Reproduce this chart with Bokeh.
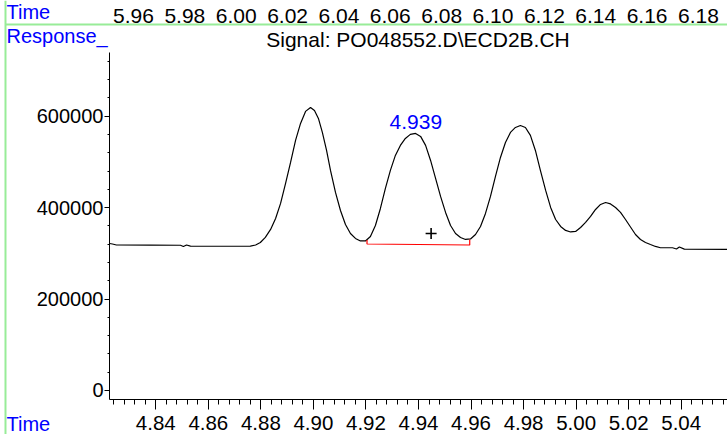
from bokeh.plotting import figure
from bokeh.models import (Range1d, LinearAxis, FixedTicker, PrintfTickFormatter,
                          Label, Span)
from bokeh.embed import file_html
from bokeh.resources import INLINE
import numpy as np

# ---------------- data ----------------
time_min = [4.8224, 4.8235, 4.8250, 4.8380, 4.8494, 4.8505, 4.8517, 4.8532, 4.8646, 4.8760,
            4.8780, 4.8798, 4.8817, 4.8837, 4.8856, 4.8875, 4.8894, 4.8913, 4.8932, 4.8951,
            4.8970, 4.8989, 4.9004, 4.9019, 4.9034, 4.9050, 4.9065, 4.9084, 4.9103, 4.9122,
            4.9141, 4.9160, 4.9179, 4.9198, 4.9217, 4.9236, 4.9255, 4.9274, 4.9293, 4.9312,
            4.9331, 4.9350, 4.9369, 4.9389, 4.9408, 4.9427, 4.9446, 4.9465, 4.9484, 4.9503,
            4.9522, 4.9541, 4.9560, 4.9579, 4.9598, 4.9617, 4.9636, 4.9655, 4.9674, 4.9693,
            4.9712, 4.9731, 4.9750, 4.9769, 4.9788, 4.9807, 4.9826, 4.9845, 4.9864, 4.9884,
            4.9903, 4.9922, 4.9941, 4.9960, 4.9979, 4.9998, 5.0017, 5.0036, 5.0055, 5.0074,
            5.0093, 5.0112, 5.0131, 5.0150, 5.0169, 5.0188, 5.0207, 5.0226, 5.0245, 5.0264,
            5.0283, 5.0302, 5.0321, 5.0367, 5.0382, 5.0393, 5.0412, 5.0576]
response = [321600, 320500, 318300, 318100, 317700, 315000, 318300, 315700, 315500, 315700,
            318300, 323800, 334800, 352300, 376300, 409200, 452900, 498900, 547000, 584200,
            610500, 619200, 612600, 595100, 564500, 525100, 481400, 433200, 393800, 363200,
            343500, 332600, 327100, 327100, 337000, 361000, 398200, 442000, 481400, 514200,
            536100, 551400, 560200, 562300, 555800, 536100, 503200, 463900, 424500, 389500,
            361000, 343500, 334800, 330400, 331500, 341300, 358800, 387300, 424500, 468200,
            509800, 542600, 564500, 575400, 579800, 575400, 558000, 525100, 481400, 437600,
            400400, 374100, 358800, 350100, 346800, 347900, 356600, 367600, 380700, 396000,
            407000, 411300, 408100, 400400, 389500, 374100, 357700, 341300, 330400, 323800,
            319400, 315100, 312200, 312200, 309600, 314000, 309200, 308500]

baseline_time = [4.9204, 4.9204, 4.9595, 4.9595]
baseline_resp = [329300, 320500, 318300, 330400]
marker_time = [4.9448]
marker_resp = [343500]
peak_time = 4.939
peak_text = "4.939"

bottom_ticks = [4.84, 4.86, 4.88, 4.90, 4.92, 4.94, 4.96, 4.98, 5.00, 5.02, 5.04]
top_ticks = [5.96, 5.98, 6.00, 6.02, 6.04, 6.06, 6.08, 6.10, 6.12, 6.14, 6.16, 6.18]
y_ticks = [0, 200000, 400000, 600000]
title_text = "Signal: PO048552.D\\ECD2B.CH"
x_name = "Time"
y_name = "Response_"

# ---------------- layout / styling ----------------
FONT = "Liberation Sans"
BLUE = "#0000ff"
GREEN = "#98ec98"

# ranges cover the whole canvas; axes are pinned with fixed_location
X0, X1 = 4.780883, 5.057625          # main time axis (bottom)
Y0, Y1 = -96250, 853090              # response
T0, T1 = 5.90821, 6.19131            # upper time axis
Y_AXIS_X = 4.822375                  # where the response axis stands
X_AXIS_Y = -20340                    # where the lower time axis lies
TOP_AXIS_Y = 801030                  # where the upper time axis lies
LEFT_TEXT_X = 4.783166
GREEN_X = 4.782786

p = figure(width=727, height=434, output_backend="svg", toolbar_location=None,
           x_range=Range1d(X0, X1), y_range=Range1d(Y0, Y1),
           x_axis_location=None, y_axis_location=None,
           min_border_left=0, min_border_right=0, min_border_top=0, min_border_bottom=0)
p.outline_line_color = None
p.grid.grid_line_color = None
p.background_fill_color = "white"
p.border_fill_color = "white"

minor_x = [round(v, 3) for v in np.arange(4.824, 5.0561, 0.004)
           if min(abs(v - t) for t in bottom_ticks) > 1e-6]
minor_y = [40000 * k for k in range(1, 19) if k % 5 != 0]

xaxis = LinearAxis(ticker=FixedTicker(ticks=bottom_ticks, minor_ticks=minor_x),
                   formatter=PrintfTickFormatter(format="%.2f"),
                   fixed_location=X_AXIS_Y, bounds=(Y_AXIS_X, X1 + 0.01))
xaxis.major_tick_out = 10
xaxis.major_tick_in = 0
xaxis.minor_tick_out = 5
xaxis.minor_tick_in = 0
xaxis.major_label_standoff = 6
xaxis.major_label_text_font_size = "20.5px"
p.add_layout(xaxis, "below")

yaxis = LinearAxis(ticker=FixedTicker(ticks=y_ticks, minor_ticks=minor_y),
                   formatter=PrintfTickFormatter(format="%d"),
                   fixed_location=Y_AXIS_X, bounds=(X_AXIS_Y, 740000))
yaxis.major_tick_out = 5
yaxis.major_tick_in = 0
yaxis.minor_tick_out = 2
yaxis.minor_tick_in = 0
yaxis.major_label_standoff = 1
yaxis.major_label_text_font_size = "20px"
p.add_layout(yaxis, "left")

p.extra_x_ranges = {"top": Range1d(T0, T1)}
taxis = LinearAxis(x_range_name="top", ticker=FixedTicker(ticks=top_ticks, minor_ticks=[]),
                   formatter=PrintfTickFormatter(format="%.2f"),
                   fixed_location=TOP_AXIS_Y, bounds=(5.91016, T1 + 0.01))
taxis.major_tick_out = 0
taxis.major_tick_in = 0
taxis.minor_tick_out = 0
taxis.minor_tick_in = 0
taxis.major_label_standoff = 1
taxis.axis_line_color = GREEN
taxis.axis_line_width = 2
taxis.major_label_text_font_size = "21px"
p.add_layout(taxis, "above")

for ax in (xaxis, yaxis, taxis):
    ax.major_label_text_font = FONT
    ax.major_label_text_color = "black"
for ax in (xaxis, yaxis):
    ax.axis_line_color = "black"
    ax.major_tick_line_color = "black"
    ax.minor_tick_line_color = "black"

# green left border
p.add_layout(Span(location=GREEN_X, dimension="height", line_color=GREEN, line_width=2))

# chromatogram
p.line(time_min, response, line_color="black", line_width=1.2)
p.line(baseline_time, baseline_resp, line_color="red", line_width=1.2)
p.scatter(marker_time, marker_resp, marker="cross", size=11, line_color="black", line_width=1.6)

def lbl(x, y, text, color="black", align="left", size="20px"):
    return Label(x=x, y=y, text=text, text_font=FONT, text_font_size=size,
                 text_color=color, text_align=align, text_baseline="middle")

p.add_layout(lbl(peak_time, 588400, peak_text, BLUE, "center", "21px"))
p.add_layout(lbl(4.93981, 768870, title_text, "black", "center", "21px"))
p.add_layout(lbl(LEFT_TEXT_X, 827930, x_name, BLUE))
p.add_layout(lbl(LEFT_TEXT_X, 776530, y_name, BLUE))
p.add_layout(lbl(LEFT_TEXT_X, -74370, x_name, BLUE))

open("out.html", "w").write(file_html(p, INLINE))
